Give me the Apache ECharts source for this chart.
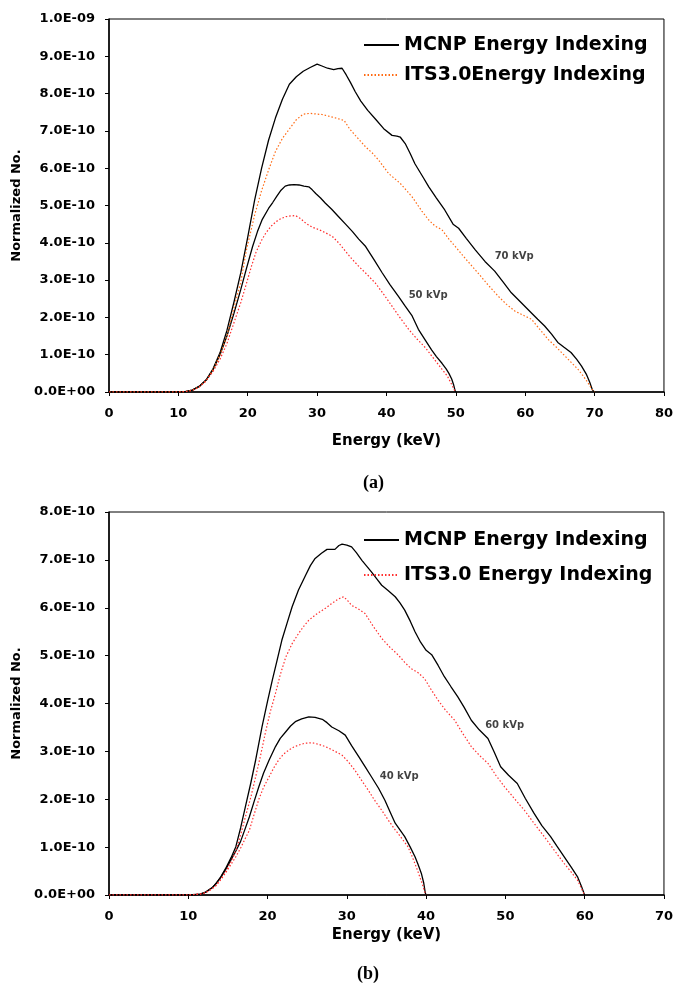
<!DOCTYPE html>
<html>
<head>
<meta charset="utf-8">
<script src="https://cdn.jsdelivr.net/npm/echarts@6/dist/echarts.min.js"></script>
<style>
  body { margin: 0; background: #fff; }
  #chartA { width: 676px; height: 492px; }
  #chartB { width: 676px; height: 493px; }
</style>
</head>
<body>
<div id="chartA"></div>
<div id="chartB"></div>
<script>
// values are in units of 1E-10 (Normalized No.), energies in keV
const yTicksA = ['0.0E+00','1.0E-10','2.0E-10','3.0E-10','4.0E-10','5.0E-10','6.0E-10','7.0E-10','8.0E-10','9.0E-10','1.0E-09'];
const yTicksB = ['0.0E+00','1.0E-10','2.0E-10','3.0E-10','4.0E-10','5.0E-10','6.0E-10','7.0E-10','8.0E-10'];

const legendA = ['MCNP Energy Indexing', 'ITS3.0Energy Indexing'];
const legendB = ['MCNP Energy Indexing', 'ITS3.0 Energy Indexing'];

// (a) 70 kVp and 50 kVp
const mcnp70 = [[0,0],[10,0],[11,0.01],[12,0.05],[13,0.15],[14,0.32],[15,0.62],[16,1.05],[17,1.65],[18,2.4],[19,3.2],[20,4.15],[21,5.15],[22,6.0],[23,6.75],[24,7.35],[25,7.85],[26,8.25],[27,8.45],[28,8.6],[29,8.7],[30,8.79],[30.7,8.74],[31.5,8.68],[32.4,8.64],[33.0,8.67],[33.6,8.68],[34.2,8.5],[34.8,8.3],[35.5,8.05],[36.3,7.8],[37.3,7.55],[38.4,7.32],[39.6,7.06],[40.8,6.88],[41.5,6.86],[42.0,6.83],[42.7,6.66],[43.4,6.4],[44.1,6.12],[45.3,5.75],[46.1,5.5],[47.2,5.2],[48.4,4.88],[49.6,4.5],[50.4,4.39],[51.5,4.12],[52.8,3.81],[54.2,3.5],[55.6,3.24],[56.8,2.95],[58.0,2.66],[59.4,2.4],[60.9,2.12],[61.8,1.95],[62.8,1.77],[63.8,1.55],[64.7,1.33],[65.6,1.2],[66.6,1.06],[67.4,0.88],[68.1,0.7],[68.8,0.48],[69.3,0.26],[69.7,0.05],[70,0]];
const its70 = [[0,0],[10,0],[11,0.01],[12,0.05],[13,0.14],[14,0.3],[15,0.6],[16,1.0],[17,1.5],[18,2.25],[19,2.95],[19.8,3.8],[21,4.75],[22,5.4],[23,5.95],[24,6.45],[25,6.8],[26,7.05],[27,7.3],[28,7.45],[29,7.47],[30,7.45],[30.7,7.44],[32.2,7.37],[33.9,7.28],[34.7,7.05],[35.5,6.88],[37.0,6.57],[38.0,6.4],[38.9,6.21],[40.3,5.86],[42.0,5.59],[43.7,5.23],[45.1,4.85],[46.1,4.61],[47.0,4.45],[48.0,4.35],[49.0,4.1],[50.1,3.86],[51.5,3.55],[53.2,3.19],[54.6,2.88],[56.1,2.57],[57.3,2.35],[58.5,2.17],[59.8,2.05],[60.9,1.95],[62.1,1.68],[63.3,1.41],[64.5,1.2],[65.7,0.97],[66.7,0.78],[67.6,0.61],[68.4,0.42],[69.0,0.26],[69.6,0.08],[70,0]];
const mcnp50 = [[0,0],[10,0],[11,0.01],[12,0.05],[13,0.15],[14,0.32],[15,0.6],[16,1.0],[17,1.5],[18,2.1],[19,2.75],[19.8,3.3],[20.7,3.9],[21.4,4.3],[22.1,4.63],[23.0,4.92],[23.6,5.08],[24.2,5.25],[24.8,5.41],[25.4,5.52],[26.0,5.55],[26.7,5.56],[27.4,5.55],[28.1,5.52],[28.8,5.5],[29.3,5.42],[29.8,5.32],[30.5,5.2],[31.2,5.06],[32.1,4.9],[33.1,4.7],[34.1,4.5],[35.1,4.3],[36.0,4.1],[37.0,3.9],[38.2,3.55],[39.4,3.19],[40.5,2.88],[41.7,2.57],[42.7,2.3],[43.7,2.04],[44.6,1.68],[45.5,1.42],[46.5,1.13],[47.2,0.95],[48.0,0.77],[48.6,0.62],[49.0,0.5],[49.4,0.35],[49.7,0.18],[49.9,0.03],[50,0]];
const its50 = [[0,0],[10,0],[11,0.01],[12,0.04],[13,0.13],[14,0.3],[15,0.55],[16,0.88],[17,1.3],[18,1.85],[19,2.4],[19.8,2.9],[20.5,3.35],[21.2,3.75],[22.0,4.07],[22.6,4.26],[23.4,4.45],[24.1,4.57],[24.8,4.65],[25.5,4.7],[26.2,4.72],[26.9,4.73],[27.6,4.65],[28.4,4.52],[29.3,4.42],[30.3,4.35],[31.2,4.27],[32.2,4.17],[33.2,3.98],[34.1,3.77],[35.0,3.57],[36.0,3.37],[37.2,3.15],[38.4,2.92],[39.6,2.62],[40.8,2.3],[42.0,1.98],[43.2,1.68],[44.4,1.42],[45.6,1.19],[46.8,0.9],[48.0,0.61],[48.8,0.42],[49.4,0.2],[49.8,0.05],[50,0]];

// (b) 60 kVp and 40 kVp
const mcnp60 = [[0,0],[10,0],[10.6,0],[11.5,0.02],[12.2,0.06],[13.0,0.15],[13.5,0.24],[14.1,0.38],[14.7,0.55],[15.4,0.78],[16.0,1.01],[16.6,1.4],[17.2,1.84],[17.9,2.35],[18.5,2.82],[19.3,3.51],[20.0,4.05],[20.6,4.49],[21.2,4.9],[21.8,5.32],[22.5,5.7],[23.1,6.02],[23.9,6.37],[24.8,6.68],[25.4,6.88],[26.0,7.03],[26.8,7.14],[27.5,7.22],[28.0,7.22],[28.5,7.22],[29.0,7.3],[29.4,7.33],[30.0,7.31],[30.6,7.27],[31.2,7.15],[31.9,6.99],[32.5,6.87],[33.1,6.75],[33.8,6.6],[34.4,6.47],[35.2,6.36],[36.1,6.23],[36.7,6.1],[37.3,5.95],[38.0,5.72],[38.6,5.5],[39.3,5.28],[40.0,5.11],[40.7,5.02],[41.5,4.8],[42.3,4.56],[43.1,4.36],[44.0,4.14],[44.8,3.92],[45.7,3.65],[46.7,3.45],[47.8,3.27],[48.6,2.98],[49.4,2.68],[50.4,2.5],[51.5,2.33],[52.5,2.02],[53.6,1.71],[54.6,1.45],[55.7,1.22],[56.5,1.02],[57.4,0.8],[58.3,0.58],[59.1,0.38],[59.6,0.18],[59.9,0.04],[60,0]];
const its60 = [[0,0],[10,0],[11.5,0.02],[12.2,0.05],[13,0.13],[13.5,0.2],[14.1,0.33],[14.7,0.48],[15.4,0.7],[16.0,0.92],[16.6,1.25],[17.2,1.63],[17.9,2.05],[18.5,2.47],[19.1,2.9],[19.7,3.37],[20.3,3.8],[21.0,4.21],[21.6,4.6],[22.3,4.97],[23.1,5.25],[23.9,5.46],[24.5,5.6],[25.2,5.74],[26.2,5.87],[27.3,5.99],[28.1,6.09],[28.9,6.18],[29.6,6.23],[30.1,6.15],[30.6,6.05],[31.5,5.97],[32.3,5.88],[33.3,5.62],[34.4,5.36],[35.4,5.18],[36.5,5.01],[37.3,4.86],[38.1,4.73],[39.0,4.64],[39.8,4.52],[40.6,4.3],[41.5,4.07],[42.5,3.85],[43.6,3.65],[44.6,3.38],[45.7,3.1],[46.7,2.92],[47.8,2.75],[48.8,2.5],[49.9,2.26],[51.1,2.02],[52.4,1.77],[53.6,1.5],[54.9,1.22],[56.1,0.95],[57.4,0.66],[58.3,0.48],[59.1,0.31],[59.7,0.1],[60,0]];
const mcnp40 = [[0,0],[10,0],[11.5,0.02],[12.2,0.06],[13,0.15],[13.5,0.24],[14.1,0.37],[14.7,0.53],[15.4,0.74],[16.0,0.92],[16.6,1.12],[17.1,1.35],[17.7,1.63],[18.3,1.95],[18.9,2.26],[19.5,2.55],[20.2,2.82],[21.0,3.1],[21.6,3.27],[22.3,3.41],[22.9,3.53],[23.5,3.62],[24.3,3.68],[25.2,3.72],[26.0,3.71],[26.9,3.67],[27.5,3.6],[28.1,3.51],[29.0,3.43],[29.8,3.34],[30.6,3.12],[31.5,2.89],[32.3,2.68],[33.1,2.47],[34.0,2.23],[34.8,1.98],[35.5,1.72],[36.1,1.5],[36.7,1.36],[37.3,1.22],[38.0,1.0],[38.6,0.8],[39.0,0.63],[39.4,0.45],[39.7,0.25],[39.9,0.04],[40,0]];
const its40 = [[0,0],[10,0],[11.5,0.02],[12.2,0.05],[13,0.13],[13.5,0.2],[14.1,0.32],[14.7,0.46],[15.4,0.64],[16.0,0.8],[16.6,0.98],[17.1,1.15],[17.7,1.35],[18.3,1.68],[18.9,2.0],[19.5,2.25],[20.2,2.47],[20.8,2.66],[21.4,2.82],[22.0,2.94],[22.7,3.03],[23.3,3.09],[23.9,3.13],[24.7,3.17],[25.6,3.18],[26.4,3.15],[27.3,3.1],[28.3,3.02],[29.4,2.92],[30.2,2.78],[31.0,2.61],[31.8,2.41],[32.7,2.19],[33.5,1.98],[34.4,1.77],[35.2,1.57],[36.1,1.36],[36.9,1.19],[37.7,1.01],[38.3,0.78],[38.9,0.52],[39.2,0.38],[39.5,0.24],[39.8,0.08],[40,0]];

// curve annotations [keV, value, text]
const kvpA = [[58.4, 3.63, '70 kVp'], [46.0, 2.58, '50 kVp']];
const kvpB = [[49.9, 3.55, '60 kVp'], [36.6, 2.48, '40 kVp']];

const FONT = 'DejaVu Sans';

function lineSeries(name, data, color, dotted) {
  return {
    name: name,
    type: 'line',
    data: data,
    symbol: 'none',
    showSymbol: false,
    smooth: false,
    animation: false,
    lineStyle: dotted ? { color: color, width: 1.2, type: [1.5, 2] } : { color: color, width: 1.3 },
    itemStyle: { color: color },
    z: dotted ? 3 : 2
  };
}

function labelSeries(data) {
  return {
    name: 'kVp',
    type: 'scatter',
    data: data,
    symbolSize: 1,
    itemStyle: { color: 'rgba(0,0,0,0)' },
    silent: true,
    animation: false,
    label: {
      show: true,
      position: 'inside',
      formatter: (p) => p.data[2],
      color: '#111',
      fontFamily: FONT,
      fontWeight: 'bold',
      fontSize: 10
    }
  };
}

function buildOption(cfg) {
  return {
    backgroundColor: '#fff',
    animation: false,
    grid: {
      left: 109, top: cfg.top, width: cfg.width, height: cfg.height,
      show: true, borderColor: '#000', borderWidth: 1
    },
    legend: {
      data: cfg.legend,
      orient: 'vertical',
      left: 363,
      top: cfg.legendTop,
      padding: 0,
      itemWidth: 35,
      itemHeight: 10,
      itemGap: cfg.legendGap,
      selectedMode: false,
      itemStyle: { opacity: 0 },
      textStyle: { fontFamily: FONT, fontWeight: 'bold', fontSize: 19, lineHeight: 20, color: '#000' }
    },
    xAxis: {
      type: 'value',
      min: 0, max: cfg.xMax, interval: 10,
      name: 'Energy (keV)',
      nameLocation: 'middle',
      nameGap: cfg.xNameGap,
      nameTextStyle: { fontFamily: FONT, fontWeight: 'bold', fontSize: 15, color: '#000' },
      axisLine: { lineStyle: { color: '#000', width: 1.5 } },
      axisTick: { length: 4, lineStyle: { color: '#000' } },
      axisLabel: { margin: 15, fontFamily: FONT, fontWeight: 'bold', fontSize: 13, color: '#000' },
      splitLine: { show: false }
    },
    yAxis: {
      type: 'value',
      min: 0, max: cfg.yTicks.length - 1, interval: 1,
      name: 'Normalized No.',
      nameLocation: 'middle',
      nameGap: 81,
      nameTextStyle: { fontFamily: FONT, fontWeight: 'bold', fontSize: 13, color: '#000' },
      axisLine: { show: true, lineStyle: { color: '#000', width: 1.5 } },
      axisTick: { show: true, length: 4, lineStyle: { color: '#000' } },
      axisLabel: {
        margin: 14, fontFamily: FONT, fontWeight: 'bold', fontSize: 13, color: '#000',
        formatter: (v) => cfg.yTicks[Math.round(v)]
      },
      splitLine: { show: false }
    },
    graphic: [{
      type: 'text',
      left: cfg.capX, top: cfg.capY,
      style: { text: cfg.caption, font: 'bold 18px "Liberation Serif"', fill: '#000' }
    }],
    series: cfg.series
  };
}

var chartA = echarts.init(document.getElementById('chartA'), null, { renderer: 'canvas' });
chartA.setOption(buildOption({
  top: 19, width: 556, height: 373, xMax: 80, xNameGap: 42,
  yTicks: yTicksA, legend: legendA, legendTop: 35, legendGap: 10,
  caption: '(a)', capX: 363, capY: 474,
  series: [
    lineSeries(legendA[0], mcnp70, '#000', false),
    lineSeries(legendA[1], its70, '#ff6a13', true),
    lineSeries(legendA[0], mcnp50, '#000', false),
    lineSeries(legendA[1], its50, '#ff2a2a', true),
    labelSeries(kvpA)
  ]
}));

var chartB = echarts.init(document.getElementById('chartB'), null, { renderer: 'canvas' });
chartB.setOption(buildOption({
  top: 20, width: 558, height: 383, xMax: 70, xNameGap: 32,
  yTicks: yTicksB, legend: legendB, legendTop: 38, legendGap: 15,
  caption: '(b)', capX: 357, capY: 473,
  series: [
    lineSeries(legendB[0], mcnp60, '#000', false),
    lineSeries(legendB[1], its60, '#ff3030', true),
    lineSeries(legendB[0], mcnp40, '#000', false),
    lineSeries(legendB[1], its40, '#ff3030', true),
    labelSeries(kvpB)
  ]
}));
</script>
</body>
</html>
